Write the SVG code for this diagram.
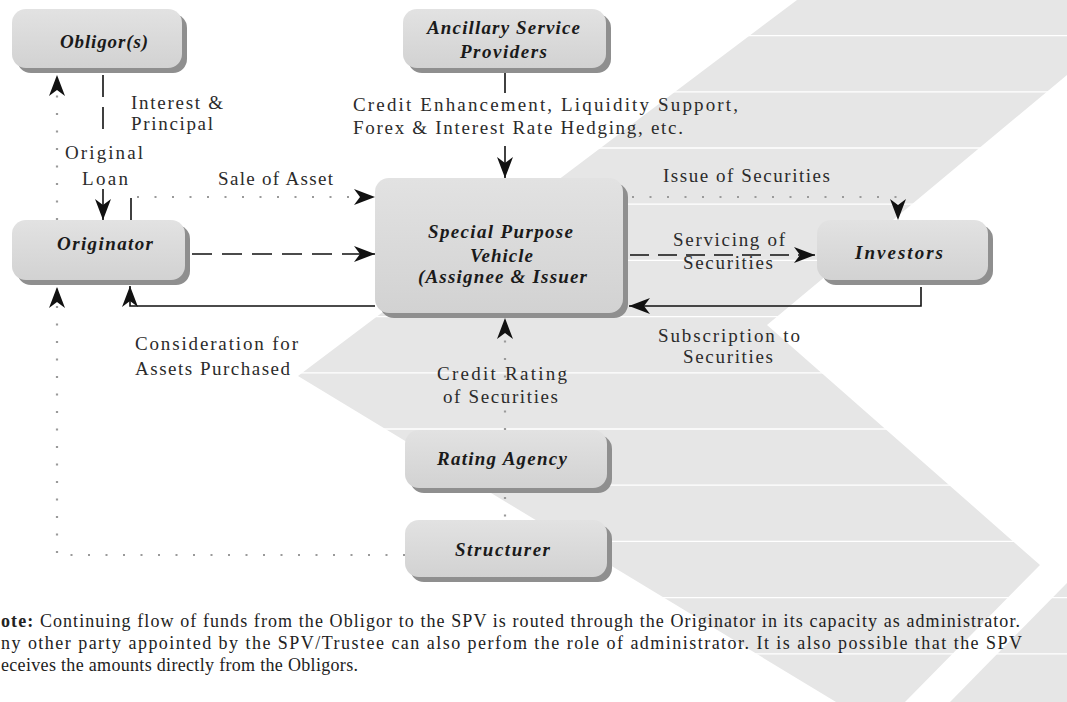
<svg xmlns="http://www.w3.org/2000/svg" width="1067" height="702" viewBox="0 0 1067 702">
<defs>
<linearGradient id="boxg" x1="0" y1="0" x2="0" y2="1">
<stop offset="0" stop-color="#e2e2e2"/>
<stop offset="1" stop-color="#d2d2d2"/>
</linearGradient>
<marker id="ah" markerUnits="userSpaceOnUse" markerWidth="24" markerHeight="20" viewBox="0 -10 24 20" refX="21" refY="0" orient="auto">
<path d="M0,-8 L21,0 L0,8 L6,0 Z" fill="#111"/>
</marker>
<style>
.box{fill:url(#boxg);}
.shadow{fill:#8f8f8f;}
.nl{font-family:"Liberation Serif",serif;font-weight:bold;font-style:italic;font-size:19px;fill:#1a1a1a;}
.el{font-family:"Liberation Serif",serif;font-size:19px;fill:#2b2b2b;}
.note{font-family:"Liberation Serif",serif;font-size:18px;fill:#222;}
.solid{stroke:#111;stroke-width:1.6;fill:none;}
.dash{stroke:#111;stroke-width:1.6;stroke-dasharray:20 10;fill:none;}
.dot{stroke:#9a9a9a;stroke-width:2.2;stroke-dasharray:2 15.5;fill:none;}
.scan{stroke:#ffffff;stroke-width:1.3;}
.chev{fill:#e6e6e6;}
</style>
</defs>
<rect x="0" y="0" width="1067" height="702" fill="#ffffff"/>
<g id="background">
<polygon class="chev" points="797,0 1157,0 767,325 1040,565 905,702 836,702 298,376"/>
<polygon class="chev" points="1067,583 1067,702 950,702"/>
<g>
<line class="scan" x1="0" y1="35.6" x2="1067" y2="35.6"/>
<line class="scan" x1="0" y1="91.8" x2="1067" y2="91.8"/>
<line class="scan" x1="0" y1="148" x2="1067" y2="148"/>
<line class="scan" x1="0" y1="204.2" x2="1067" y2="204.2"/>
<line class="scan" x1="0" y1="260.4" x2="1067" y2="260.4"/>
<line class="scan" x1="0" y1="316.6" x2="1067" y2="316.6"/>
<line class="scan" x1="0" y1="372.8" x2="1067" y2="372.8"/>
<line class="scan" x1="0" y1="429" x2="1067" y2="429"/>
<line class="scan" x1="0" y1="485.2" x2="1067" y2="485.2"/>
<line class="scan" x1="0" y1="541.4" x2="1067" y2="541.4"/>
<line class="scan" x1="0" y1="597.6" x2="1067" y2="597.6"/>
<line class="scan" x1="0" y1="653.8" x2="1067" y2="653.8"/>
</g>
</g>
<g id="connectors">
<path class="dash" d="M103,75 V130" style="stroke-dasharray:22 10"/>
<path class="solid" d="M103,189 V220" marker-end="url(#ah)"/>
<path class="dot" d="M57,220 V75" marker-end="url(#ah)"/>
<path class="dot" d="M405,555 H57 V287" marker-end="url(#ah)"/>
<path class="solid" d="M131,220 V198"/>
<path class="dot" d="M137,197 H375" marker-end="url(#ah)"/>
<path class="dash" d="M192,254 H375" marker-end="url(#ah)"/>
<path class="solid" d="M375,306 H130 V286" marker-end="url(#ah)"/>
<path class="solid" d="M505,72 V93"/>
<path class="solid" d="M505,146 V178" marker-end="url(#ah)"/>
<path class="dot" d="M632,197 H898 V220" marker-end="url(#ah)"/>
<path class="dash" d="M630,255 H815" style="stroke-dasharray:19 9" marker-end="url(#ah)"/>
<path class="solid" d="M921,287 V306 H629" marker-end="url(#ah)"/>
<path class="dot" d="M505,430 V318" marker-end="url(#ah)"/>
<path class="dot" d="M505,497 V520"/>
</g>
<g id="obligor">
<rect class="shadow" x="17" y="14" width="170" height="59" rx="14"/>
<rect class="box" x="12" y="9" width="170" height="59" rx="14"/>
<text class="nl" x="60" y="48" textLength="88">Obligor(s)</text>
</g>
<g id="ancillary">
<rect class="shadow" x="408" y="14" width="203" height="59" rx="14"/>
<rect class="box" x="403" y="9" width="203" height="59" rx="14"/>
<text class="nl" x="427" y="34" textLength="153">Ancillary Service</text>
<text class="nl" x="460" y="58" textLength="87">Providers</text>
</g>
<g id="originator">
<rect class="shadow" x="17" y="225" width="173" height="60" rx="14"/>
<rect class="box" x="12" y="220" width="173" height="60" rx="14"/>
<text class="nl" x="57" y="250" textLength="96">Originator</text>
</g>
<g id="spv">
<rect class="shadow" x="380" y="183" width="248" height="135" rx="14"/>
<rect class="box" x="375" y="178" width="248" height="135" rx="14"/>
<text class="nl" x="428" y="238" textLength="145">Special Purpose</text>
<text class="nl" x="470" y="262" textLength="63">Vehicle</text>
<text class="nl" x="418" y="283" textLength="169">(Assignee &amp; Issuer</text>
</g>
<g id="investors">
<rect class="shadow" x="822" y="225" width="171" height="60" rx="14"/>
<rect class="box" x="817" y="220" width="171" height="60" rx="14"/>
<text class="nl" x="855" y="259" textLength="88">Investors</text>
</g>
<g id="rating">
<rect class="shadow" x="410" y="435" width="202" height="58" rx="14"/>
<rect class="box" x="405" y="430" width="202" height="58" rx="14"/>
<text class="nl" x="437" y="465" textLength="130">Rating Agency</text>
</g>
<g id="structurer">
<rect class="shadow" x="410" y="525" width="202" height="57" rx="14"/>
<rect class="box" x="405" y="520" width="202" height="57" rx="14"/>
<text class="nl" x="455" y="556" textLength="95">Structurer</text>
</g>
<g id="labels">
<text class="el" x="131" y="109" textLength="92">Interest &amp;</text>
<text class="el" x="131" y="130" textLength="82">Principal</text>
<text class="el" x="65" y="159" textLength="78">Original</text>
<text class="el" x="82" y="185" textLength="46">Loan</text>
<text class="el" x="218" y="185" textLength="115">Sale of Asset</text>
<text class="el" x="353" y="111" textLength="385">Credit Enhancement, Liquidity Support,</text>
<text class="el" x="353" y="134" textLength="330">Forex &amp; Interest Rate Hedging, etc.</text>
<text class="el" x="663" y="182" textLength="167">Issue of Securities</text>
<text class="el" x="673" y="246" textLength="112">Servicing of</text>
<text class="el" x="683" y="269" textLength="90">Securities</text>
<text class="el" x="658" y="342" textLength="142">Subscription to</text>
<text class="el" x="683" y="363" textLength="90">Securities</text>
<text class="el" x="135" y="350" textLength="163">Consideration for</text>
<text class="el" x="135" y="375" textLength="155">Assets Purchased</text>
<text class="el" x="437" y="380" textLength="130">Credit Rating</text>
<text class="el" x="443" y="403" textLength="115">of Securities</text>
</g>
<g id="note">
<text class="note" x="1" y="627" textLength="1019"><tspan font-weight="bold">ote:</tspan> Continuing flow of funds from the Obligor to the SPV is routed through the Originator in its capacity as administrator.</text>
<text class="note" x="1" y="649" textLength="1021">ny other party appointed by the SPV/Trustee can also perfom the role of administrator. It is also possible that the SPV</text>
<text class="note" x="1" y="671" textLength="357">eceives the amounts directly from the Obligors.</text>
</g>
</svg>
